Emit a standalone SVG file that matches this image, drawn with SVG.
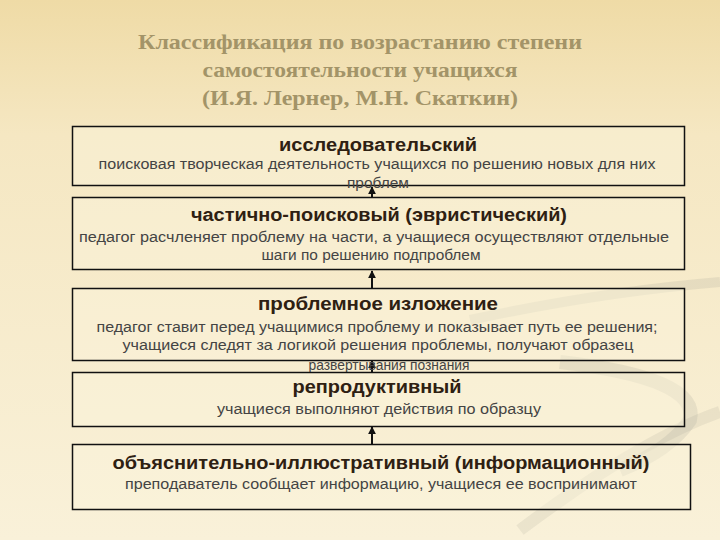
<svg xmlns="http://www.w3.org/2000/svg" width="720" height="540" viewBox="0 0 720 540">
  <defs>
    <linearGradient id="bg" x1="0" y1="0" x2="0" y2="1">
      <stop offset="0" stop-color="#efdba6"/>
      <stop offset="0.25" stop-color="#f5e7c2"/>
      <stop offset="1" stop-color="#f9f1d9"/>
    </linearGradient>
    <marker id="arr" viewBox="0 0 10 10" refX="9" refY="5" markerWidth="4" markerHeight="4" orient="auto">
      <path d="M0,0 L10,5 L0,10 z" fill="#111"/>
    </marker>
    <style>
      .box { fill: #fbf3dc; fill-opacity: 0.45; stroke: #111; stroke-width: 1.5; }
      .head { font-family: "Liberation Serif", "DejaVu Serif", serif; font-size: 22px; fill: #a39468; text-anchor: middle; font-weight: bold; }
      .t { font-family: "Liberation Sans", Arial, sans-serif; font-size: 18px; font-weight: bold; fill: #2e2012; text-anchor: middle; }
      .s { font-family: "Liberation Sans", Arial, sans-serif; font-size: 14px; fill: #444; text-anchor: middle; }
      .c { stroke: #111; stroke-width: 2; fill: none; marker-end: url(#arr); }
    </style>
  </defs>
  <rect width="720" height="540" fill="url(#bg)"/>
  <g id="swoosh" fill="none" stroke="#9a9a90">
    <path d="M470,320 Q600,292 720,282" stroke-width="10" stroke-opacity="0.18"/>
    <path d="M560,362 Q700,378 690,420 Q670,450 620,470" stroke-width="14" stroke-opacity="0.18"/>
    <path d="M520,530 Q640,440 720,412" stroke-width="12" stroke-opacity="0.15"/>
  </g>
  <g id="title">
    <text class="head" x="360" y="49" textLength="444" lengthAdjust="spacingAndGlyphs">Классификация по возрастанию степени</text>
    <text class="head" x="360" y="77" textLength="315" lengthAdjust="spacingAndGlyphs">самостоятельности учащихся</text>
    <text class="head" x="360" y="105" textLength="316" lengthAdjust="spacingAndGlyphs">(И.Я. Лернер, М.Н. Скаткин)</text>
  </g>
  <g id="connectors">
    <line class="c" x1="372" y1="198" x2="372" y2="187"/>
    <line class="c" x1="372" y1="288" x2="372" y2="271"/>
    <line class="c" x1="372" y1="372" x2="372" y2="361"/>
    <line class="c" x1="372" y1="444" x2="372" y2="427"/>
  </g>
  <g id="n1">
    <rect class="box" x="72.5" y="126.5" width="612" height="59"/>
    <text class="t" x="378" y="151" textLength="198" lengthAdjust="spacingAndGlyphs">исследовательский</text>
    <text class="s" x="377" y="169" textLength="557" lengthAdjust="spacingAndGlyphs">поисковая творческая деятельность учащихся по решению новых для них</text>
    <text class="s" x="378" y="188" textLength="62" lengthAdjust="spacingAndGlyphs">проблем</text>
  </g>
  <g id="n2">
    <rect class="box" x="72.5" y="197.5" width="612" height="72"/>
    <text class="t" x="379" y="221" textLength="376" lengthAdjust="spacingAndGlyphs">частично-поисковый (эвристический)</text>
    <text class="s" x="374" y="242" textLength="590" lengthAdjust="spacingAndGlyphs">педагог расчленяет проблему на части, а учащиеся осуществляют отдельные</text>
    <text class="s" x="371" y="260" textLength="219" lengthAdjust="spacingAndGlyphs">шаги по решению подпроблем</text>
  </g>
  <g id="n3">
    <rect class="box" x="72.5" y="288.5" width="612" height="72"/>
    <text class="t" x="378" y="310" textLength="240" lengthAdjust="spacingAndGlyphs">проблемное изложение</text>
    <text class="s" x="377" y="332" textLength="561" lengthAdjust="spacingAndGlyphs">педагог ставит перед учащимися проблему и показывает путь ее решения;</text>
    <text class="s" x="378" y="350" textLength="511" lengthAdjust="spacingAndGlyphs">учащиеся следят за логикой решения проблемы, получают образец</text>
    <text class="s" x="389" y="370" textLength="161" lengthAdjust="spacingAndGlyphs">развертывания познания</text>
  </g>
  <g id="n4">
    <rect class="box" x="72.5" y="372.5" width="612" height="54"/>
    <text class="t" x="377" y="393" textLength="169" lengthAdjust="spacingAndGlyphs">репродуктивный</text>
    <text class="s" x="379" y="414" textLength="324" lengthAdjust="spacingAndGlyphs">учащиеся  выполняют действия по образцу</text>
  </g>
  <g id="n5">
    <rect class="box" x="72.5" y="444.5" width="618" height="65"/>
    <text class="t" x="381" y="469" textLength="537" lengthAdjust="spacingAndGlyphs">объяснительно-иллюстративный (информационный)</text>
    <text class="s" x="381" y="489" textLength="512" lengthAdjust="spacingAndGlyphs">преподаватель сообщает информацию, учащиеся ее воспринимают</text>
  </g>
</svg>
